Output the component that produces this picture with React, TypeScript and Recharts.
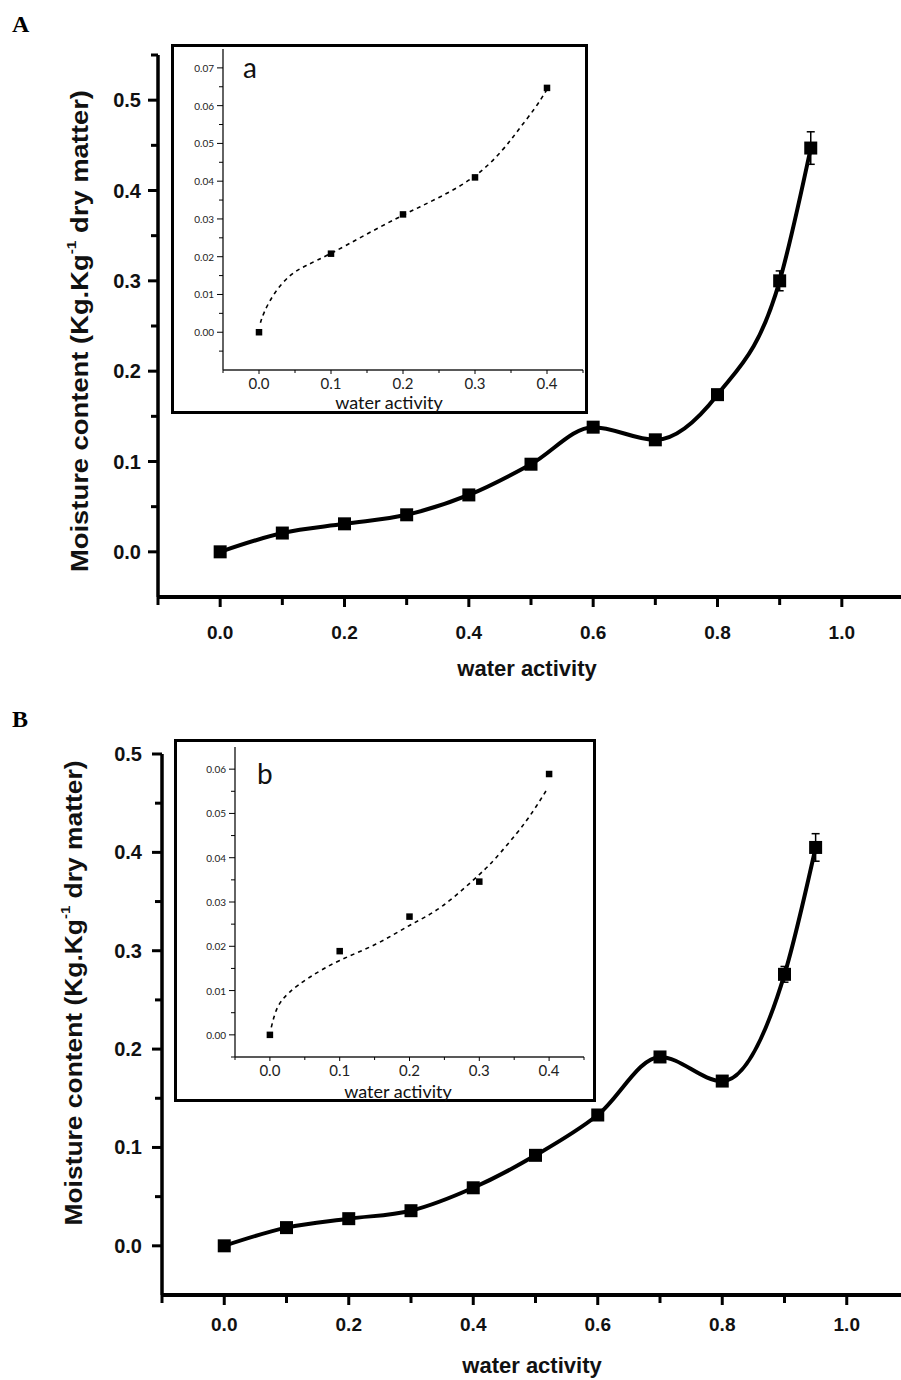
import React from 'react';
import { ComposedChart, Line, XAxis, YAxis, ErrorBar } from 'recharts';

// main isotherms
const waterActivity = [0, 0.1, 0.2, 0.3, 0.4, 0.5, 0.6, 0.7, 0.8, 0.9, 0.95];
const moistureA = [0, 0.0208, 0.031, 0.041, 0.063, 0.097, 0.138, 0.124, 0.174, 0.3, 0.447];
const errorA = [null, null, null, null, null, null, null, null, null, 0.011, 0.018];
const moistureB = [0, 0.0185, 0.0276, 0.0357, 0.059, 0.092, 0.133, 0.192, 0.1675, 0.276, 0.405];
const errorB = [null, null, null, null, null, null, null, null, null, 0.008, 0.014];

// insets (low water activity)
const insetAw = [0, 0.1, 0.2, 0.3, 0.4];
const insetMoistureA = [0, 0.0208, 0.0312, 0.041, 0.0647];
const insetMoistureB = [0, 0.0189, 0.0267, 0.0346, 0.0589];
const fitAwA = [0.002, 0.008, 0.022, 0.042, 0.065, 0.1, 0.148, 0.2, 0.25, 0.3, 0.337, 0.36, 0.383, 0.399];
const fitA = [0.0025, 0.0056, 0.0104, 0.0148, 0.0176, 0.0209, 0.0258, 0.031, 0.0357, 0.0414, 0.048, 0.0535, 0.0593, 0.064];
const fitAwB = [0.002, 0.011, 0.028, 0.057, 0.1, 0.152, 0.2, 0.248, 0.3, 0.324, 0.353, 0.377, 0.396];
const fitB = [0.0017, 0.0062, 0.0096, 0.013, 0.0168, 0.0205, 0.0247, 0.0292, 0.0362, 0.04, 0.0454, 0.0505, 0.0552];

// ticks
const mainXTicks = [-0.1, 0, 0.1, 0.2, 0.3, 0.4, 0.5, 0.6, 0.7, 0.8, 0.9, 1.0, 1.1];
const mainXLabels = ['0.0', '0.2', '0.4', '0.6', '0.8', '1.0'];
const mainYTicksA = [0, 0.05, 0.1, 0.15, 0.2, 0.25, 0.3, 0.35, 0.4, 0.45, 0.5, 0.55];
const mainYTicksB = [0, 0.05, 0.1, 0.15, 0.2, 0.25, 0.3, 0.35, 0.4, 0.45, 0.5];
const mainYLabels = ['0.0', '0.1', '0.2', '0.3', '0.4', '0.5'];
const insetXTicks = [-0.05, 0, 0.05, 0.1, 0.15, 0.2, 0.25, 0.3, 0.35, 0.4, 0.45];
const insetXLabels = ['0.0', '0.1', '0.2', '0.3', '0.4'];
const insetYTicksA = [-0.005, 0, 0.005, 0.01, 0.015, 0.02, 0.025, 0.03, 0.035, 0.04, 0.045, 0.05, 0.055, 0.06, 0.065, 0.07];
const insetYLabelsA = ['0.00', '0.01', '0.02', '0.03', '0.04', '0.05', '0.06', '0.07'];
const insetYTicksB = [-0.005, 0, 0.005, 0.01, 0.015, 0.02, 0.025, 0.03, 0.035, 0.04, 0.045, 0.05, 0.055, 0.06];
const insetYLabelsB = ['0.00', '0.01', '0.02', '0.03', '0.04', '0.05', '0.06'];

const BOLD = "'Liberation Sans', Arial, sans-serif";
const INSET_FONT = "Lato, 'Open Sans', sans-serif";

const findLabel = (labels: string[], v: number) => labels.find((l) => Math.abs(parseFloat(l) - v) < 1e-6);

const yTick = (labels: string[], o: any) => (p: any) => {
  const lab = findLabel(labels, p.payload.value);
  const len = lab ? o.major : o.minor;
  return (
    <g key={`y${p.index}`}>
      <line x1={p.x} x2={p.x - len} y1={p.y} y2={p.y} stroke="#000" strokeWidth={o.sw} />
      {lab && (
        <text x={p.x - o.gap} y={p.y} textAnchor="end" dominantBaseline="central" fontSize={o.fs}
          fontFamily={o.font} fontWeight={o.fw} fill={o.fill}>{lab}</text>
      )}
    </g>
  );
};

const xTick = (labels: string[], o: any) => (p: any) => {
  const lab = findLabel(labels, p.payload.value);
  const len = lab ? o.major : o.minor;
  return (
    <g key={`x${p.index}`}>
      <line x1={p.x} x2={p.x} y1={p.y} y2={p.y + len} stroke="#000" strokeWidth={o.sw} />
      {lab && (
        <text x={p.x} y={p.y + o.gap} textAnchor="middle" dominantBaseline="central" fontSize={o.fs}
          fontFamily={o.font} fontWeight={o.fw} fill={o.fill}>{lab}</text>
      )}
    </g>
  );
};

const square = (size: number) => (p: any) => (
  <rect key={`d${p.index}`} x={p.cx - size / 2} y={p.cy - size / 2} width={size} height={size} fill="#000" />
);

function MainChart({ top, height, margin, yMax, yTicks, moisture, errors, xGap, yGap }: any) {
  const data = waterActivity.map((x, i) => ({ x, y: moisture[i], err: errors[i] }));
  return (
    <div style={{ position: 'absolute', left: 0, top }}>
      <ComposedChart width={920} height={height} data={data} margin={margin}>
        <XAxis dataKey="x" type="number" domain={[-0.1, 1.1]} ticks={mainXTicks} interval={0} height={40}
          allowDataOverflow axisLine={{ stroke: '#000', strokeWidth: 4 }} tickLine={false} tickSize={0} tickMargin={0}
          tick={xTick(mainXLabels, { major: 10, minor: 8, sw: 3, gap: xGap, fs: 19, font: BOLD, fw: 700, fill: '#111' })} />
        <YAxis type="number" domain={[-0.05, yMax]} ticks={yTicks} interval={0} width={60} allowDataOverflow
          axisLine={{ stroke: '#000', strokeWidth: 3.5 }} tickLine={false} tickSize={0} tickMargin={0}
          tick={yTick(mainYLabels, { major: 10, minor: 7, sw: 3, gap: yGap, fs: 20, font: BOLD, fw: 700, fill: '#111' })} />
        <Line dataKey="y" type="monotone" stroke="#000" strokeWidth={4} isAnimationActive={false} dot={square(13)}>
          <ErrorBar dataKey="err" direction="y" width={4} stroke="#000" strokeWidth={1.5} />
        </Line>
      </ComposedChart>
    </div>
  );
}

function InsetChart({ left, top, width, height, margin, yDomain, yTicks, yLabels, points, fitX, fitY }: any) {
  const pts = insetAw.map((x, i) => ({ x, y: points[i] }));
  const fit = fitX.map((x: number, i: number) => ({ x, y: fitY[i] }));
  return (
    <>
      <div style={{ position: 'absolute', left, top, width, height, border: '3px solid #000', boxSizing: 'border-box', background: '#fff' }} />
      <div style={{ position: 'absolute', left, top }}>
        <ComposedChart width={width} height={height} margin={margin}>
          <XAxis dataKey="x" type="number" domain={[-0.05, 0.45]} ticks={insetXTicks} interval={0} height={20}
            allowDataOverflow axisLine={{ stroke: '#222', strokeWidth: 1.4 }} tickLine={false} tickSize={0} tickMargin={0}
            tick={xTick(insetXLabels, { major: 4, minor: 3, sw: 1, gap: 13, fs: 15, font: INSET_FONT, fw: 400, fill: '#222' })} />
          <YAxis type="number" domain={yDomain} ticks={yTicks} interval={0} width={40} allowDataOverflow
            axisLine={{ stroke: '#222', strokeWidth: 1.4 }} tickLine={false} tickSize={0} tickMargin={0}
            tick={yTick(yLabels, { major: 6, minor: 4, sw: 1, gap: 9, fs: 10, font: INSET_FONT, fw: 400, fill: '#222' })} />
          <Line data={fit} dataKey="y" type="natural" stroke="#000" strokeWidth={1.6} strokeDasharray="4 4"
            dot={false} isAnimationActive={false} />
          <Line data={pts} dataKey="y" stroke="none" dot={square(6.5)} isAnimationActive={false} />
        </ComposedChart>
      </div>
    </>
  );
}

function YLabel({ x, y, len }: { x: number; y: number; len: number }) {
  return (
    <text transform={`translate(${x},${y}) rotate(-90)`} textAnchor="middle" dominantBaseline="central"
      fontFamily={BOLD} fontWeight={700} fontSize={23} fill="#111" textLength={len} lengthAdjust="spacingAndGlyphs">
      Moisture content (Kg.Kg<tspan fontSize={13} dy={-9}>-1</tspan><tspan dy={9}> dry matter)</tspan>
    </text>
  );
}

export default function App() {
  return (
    <div style={{ position: 'absolute', left: 0, top: 0, width: 901, height: 1380, overflow: 'hidden', background: '#fff' }}>
      <MainChart top={0} height={700} margin={{ top: 55, right: 16, bottom: 63, left: 98 }} yMax={0.55}
        yTicks={mainYTicksA} moisture={moistureA} errors={errorA} xGap={35} yGap={17} />
      <MainChart top={700} height={680} margin={{ top: 54, right: 11, bottom: 45, left: 102 }} yMax={0.5}
        yTicks={mainYTicksB} moisture={moistureB} errors={errorB} xGap={29} yGap={20} />
      <InsetChart left={171} top={44} width={417} height={370} margin={{ top: 5, right: 5, bottom: 24, left: 12 }}
        yDomain={[-0.01, 0.075]} yTicks={insetYTicksA} yLabels={insetYLabelsA} points={insetMoistureA} fitX={fitAwA} fitY={fitA} />
      <InsetChart left={174} top={739} width={422} height={363} margin={{ top: 8, right: 12, bottom: 25, left: 21 }}
        yDomain={[-0.005, 0.065]} yTicks={insetYTicksB} yLabels={insetYLabelsB} points={insetMoistureB} fitX={fitAwB} fitY={fitB} />
      <svg width={901} height={1380} style={{ position: 'absolute', left: 0, top: 0, pointerEvents: 'none' }}>
        <text x={12} y={32} fontFamily="'Liberation Serif', serif" fontWeight={700} fontSize={24}>A</text>
        <text x={12} y={727} fontFamily="'Liberation Serif', serif" fontWeight={700} fontSize={24}>B</text>
        <YLabel x={80} y={331} len={482} />
        <YLabel x={74} y={993} len={465} />
        <text x={527} y={668} textAnchor="middle" dominantBaseline="central" fontFamily={BOLD} fontWeight={700} fontSize={22} fill="#111">water activity</text>
        <text x={532} y={1365} textAnchor="middle" dominantBaseline="central" fontFamily={BOLD} fontWeight={700} fontSize={22} fill="#111">water activity</text>
        <text x={243} y={78} fontFamily={INSET_FONT} fontSize={28} fill="#111">a</text>
        <text x={257} y={784} fontFamily={INSET_FONT} fontSize={28} fill="#111">b</text>
        <text x={389} y={402} textAnchor="middle" dominantBaseline="central" fontFamily={INSET_FONT} fontSize={18} fill="#111">water activity</text>
        <text x={398} y={1091} textAnchor="middle" dominantBaseline="central" fontFamily={INSET_FONT} fontSize={18} fill="#111">water activity</text>
      </svg>
    </div>
  );
}
